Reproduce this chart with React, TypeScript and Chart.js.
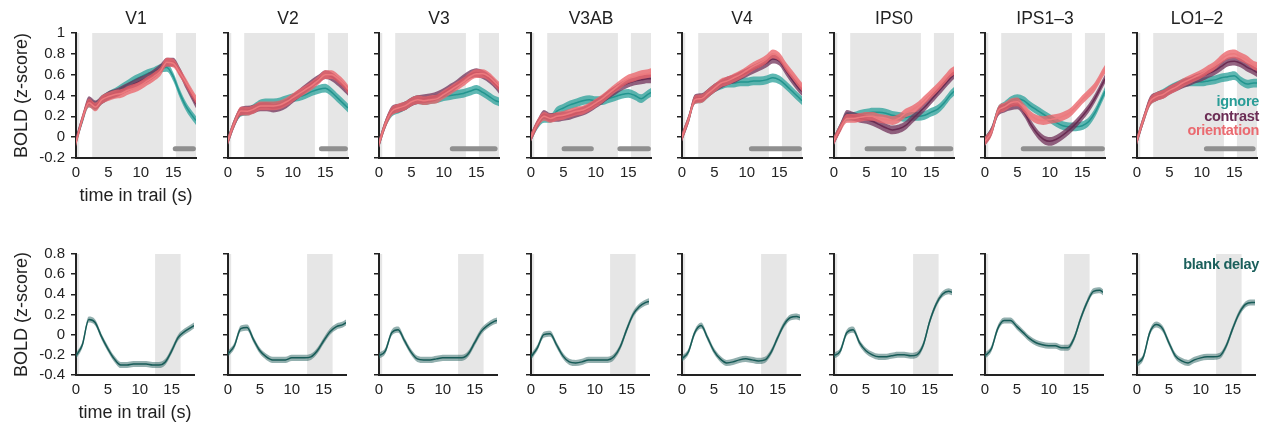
import React, { useEffect, useRef } from "react";
import { Chart, registerables } from "chart.js";

Chart.register(...registerables);

const FONT = '"Liberation Sans", Arial, Helvetica, sans-serif';
const INK = "#222222";

// ---------------- data ----------------
const REGIONS = ["V1", "V2", "V3", "V3AB", "V4", "IPS0", "IPS1–3", "LO1–2"];
const TIME_S = [0, 1, 2, 3, 4, 5, 6, 7, 8, 9, 10, 11, 12, 13, 14, 15, 16, 17, 18, 18.5];
const X_TICKS = [0, 5, 10, 15];
const TOP_Y_TICKS = [-0.2, 0, 0.2, 0.4, 0.6, 0.8, 1];
const BOTTOM_Y_TICKS = [-0.4, -0.2, 0, 0.2, 0.4, 0.6, 0.8];

// shaded task epochs (s)
const TASK_EPOCHS = [[0, 0.5], [2.5, 13.4], [15.4, 18.5]];
const BLANK_EPOCHS = [[0, 0.5], [12.4, 16.4]];

// half-width of the error bands (z)
const TASK_SEM = 0.042;
const BLANK_SEM = 0.03;

// significance bars (s), drawn at this level
const SIG_BAR_Y = -0.11;
const SIG_BARS = [
  [[15.3, 18.1]],
  [[14.4, 18.1]],
  [[11.3, 17.9]],
  [[5.1, 9.3], [13.7, 18.1]],
  [[10.7, 18.1]],
  [[5.1, 10.8], [12.9, 18.0]],
  [[5.9, 18.1]],
  [[10.7, 17.9]],
];

// per region, in REGIONS order
const IGNORE = [
  [-0.04, 0.17, 0.33, 0.3, 0.36, 0.4, 0.43, 0.47, 0.51, 0.55, 0.58, 0.61, 0.63, 0.66, 0.67, 0.58, 0.42, 0.29, 0.2, 0.16],
  [-0.03, 0.14, 0.24, 0.25, 0.28, 0.32, 0.33, 0.33, 0.34, 0.36, 0.38, 0.39, 0.41, 0.44, 0.46, 0.47, 0.43, 0.37, 0.31, 0.28],
  [-0.06, 0.13, 0.24, 0.27, 0.3, 0.34, 0.36, 0.35, 0.36, 0.37, 0.39, 0.4, 0.41, 0.42, 0.44, 0.46, 0.43, 0.39, 0.35, 0.34],
  [0.0, 0.12, 0.18, 0.18, 0.25, 0.28, 0.31, 0.33, 0.35, 0.36, 0.35, 0.35, 0.37, 0.39, 0.41, 0.42, 0.4, 0.37, 0.41, 0.43],
  [0.0, 0.17, 0.36, 0.37, 0.42, 0.47, 0.5, 0.52, 0.52, 0.53, 0.53, 0.54, 0.54, 0.55, 0.57, 0.55, 0.5, 0.44, 0.38, 0.35],
  [-0.03, 0.1, 0.2, 0.2, 0.22, 0.23, 0.24, 0.24, 0.23, 0.21, 0.2, 0.19, 0.2, 0.2, 0.21, 0.24, 0.27, 0.33, 0.41, 0.44],
  [-0.04, 0.06, 0.25, 0.3, 0.35, 0.37, 0.35, 0.3, 0.26, 0.22, 0.18, 0.14, 0.11, 0.1, 0.1, 0.11, 0.15, 0.24, 0.37, 0.44],
  [-0.03, 0.17, 0.34, 0.39, 0.42, 0.46, 0.49, 0.52, 0.53, 0.53, 0.53, 0.54, 0.55, 0.57, 0.58, 0.59, 0.54, 0.51, 0.52, 0.52],
];
const CONTRAST = [
  [-0.03, 0.18, 0.35, 0.31, 0.36, 0.4, 0.42, 0.45, 0.48, 0.51, 0.54, 0.57, 0.61, 0.66, 0.72, 0.72, 0.63, 0.5, 0.38, 0.32],
  [-0.03, 0.14, 0.25, 0.26, 0.27, 0.29, 0.29, 0.28, 0.29, 0.32, 0.37, 0.42, 0.47, 0.52, 0.56, 0.6, 0.58, 0.53, 0.47, 0.44],
  [-0.06, 0.13, 0.26, 0.28, 0.3, 0.34, 0.36, 0.37, 0.38, 0.4, 0.43, 0.47, 0.51, 0.56, 0.6, 0.62, 0.6, 0.56, 0.5, 0.46],
  [0.0, 0.13, 0.22, 0.19, 0.19, 0.2, 0.21, 0.23, 0.25, 0.28, 0.32, 0.36, 0.41, 0.45, 0.49, 0.52, 0.54, 0.55, 0.56, 0.56],
  [0.0, 0.17, 0.37, 0.38, 0.42, 0.47, 0.51, 0.54, 0.56, 0.59, 0.62, 0.65, 0.68, 0.71, 0.75, 0.73, 0.64, 0.55, 0.47, 0.44],
  [-0.03, 0.1, 0.22, 0.2, 0.18, 0.17, 0.15, 0.12, 0.09, 0.07, 0.08, 0.11, 0.17, 0.23, 0.29, 0.36, 0.43, 0.5, 0.57, 0.6],
  [-0.04, 0.06, 0.24, 0.28, 0.3, 0.31, 0.24, 0.13, 0.04, -0.02, -0.04, -0.02, 0.02, 0.07, 0.13, 0.2, 0.28, 0.38, 0.5, 0.56],
  [-0.03, 0.17, 0.35, 0.39, 0.41, 0.45, 0.48, 0.51, 0.53, 0.56, 0.58, 0.61, 0.64, 0.68, 0.72, 0.73, 0.71, 0.67, 0.64, 0.62],
];
const ORIENTATION = [
  [-0.05, 0.18, 0.33, 0.29, 0.36, 0.39, 0.41, 0.42, 0.45, 0.47, 0.5, 0.54, 0.58, 0.63, 0.72, 0.71, 0.62, 0.52, 0.41, 0.36],
  [-0.03, 0.14, 0.25, 0.25, 0.27, 0.3, 0.3, 0.3, 0.31, 0.34, 0.38, 0.42, 0.46, 0.5, 0.55, 0.6, 0.6, 0.56, 0.5, 0.46],
  [-0.06, 0.13, 0.25, 0.28, 0.3, 0.34, 0.36, 0.35, 0.36, 0.37, 0.41, 0.45, 0.49, 0.53, 0.58, 0.61, 0.61, 0.58, 0.52, 0.49],
  [0.0, 0.13, 0.2, 0.18, 0.2, 0.21, 0.23, 0.25, 0.26, 0.29, 0.33, 0.37, 0.42, 0.47, 0.52, 0.56, 0.58, 0.6, 0.61, 0.62],
  [0.0, 0.17, 0.36, 0.37, 0.42, 0.47, 0.52, 0.54, 0.57, 0.6, 0.64, 0.68, 0.71, 0.75, 0.8, 0.77, 0.68, 0.6, 0.52, 0.48],
  [-0.03, 0.09, 0.18, 0.18, 0.19, 0.2, 0.2, 0.18, 0.17, 0.16, 0.18, 0.23, 0.26, 0.3, 0.36, 0.42, 0.48, 0.55, 0.62, 0.64],
  [-0.04, 0.05, 0.25, 0.29, 0.33, 0.34, 0.28, 0.21, 0.17, 0.16, 0.17, 0.18, 0.2, 0.23, 0.29, 0.36, 0.42, 0.49, 0.6, 0.65],
  [-0.03, 0.17, 0.34, 0.39, 0.41, 0.45, 0.48, 0.52, 0.55, 0.58, 0.61, 0.65, 0.69, 0.75, 0.79, 0.8, 0.77, 0.74, 0.69, 0.68],
];
const BLANK_DELAY = [
  [-0.21, -0.1, 0.15, 0.12, -0.02, -0.14, -0.24, -0.3, -0.3, -0.29, -0.29, -0.29, -0.3, -0.3, -0.27, -0.16, -0.03, 0.03, 0.07, 0.09],
  [-0.19, -0.11, 0.06, 0.07, -0.05, -0.16, -0.22, -0.25, -0.25, -0.25, -0.23, -0.23, -0.23, -0.22, -0.16, -0.06, 0.03, 0.08, 0.1, 0.12],
  [-0.21, -0.16, 0.02, 0.05, -0.06, -0.17, -0.24, -0.25, -0.25, -0.24, -0.23, -0.23, -0.23, -0.23, -0.19, -0.08, 0.03, 0.09, 0.13, 0.14],
  [-0.22, -0.13, 0.0, 0.01, -0.1, -0.21, -0.27, -0.28, -0.27, -0.25, -0.25, -0.25, -0.25, -0.22, -0.12, 0.05, 0.2, 0.28, 0.32, 0.33],
  [-0.24, -0.17, 0.02, 0.09, -0.03, -0.16, -0.24, -0.28, -0.27, -0.25, -0.24, -0.25, -0.26, -0.25, -0.17, -0.03, 0.1, 0.17, 0.18, 0.17],
  [-0.21, -0.16, 0.02, 0.05, -0.08, -0.16, -0.2, -0.22, -0.22, -0.21, -0.2, -0.2, -0.21, -0.2, -0.1, 0.13, 0.3, 0.4, 0.43, 0.42],
  [-0.21, -0.14, 0.06, 0.14, 0.14, 0.08, 0.02, -0.04, -0.08, -0.1, -0.11, -0.11, -0.13, -0.13, -0.03, 0.16, 0.32, 0.43, 0.44, 0.42],
  [-0.29, -0.22, 0.02, 0.1, 0.06, -0.08, -0.21, -0.26, -0.28, -0.25, -0.23, -0.22, -0.22, -0.21, -0.11, 0.06, 0.21, 0.3, 0.32, 0.32],
];

// ---------------- styles ----------------
const COLORS = {
  ignore: { line: "#23958f", band: "rgba(42,160,153,0.75)", text: "#2a9d97" },
  contrast: { line: "#6a2b52", band: "rgba(112,48,88,0.75)", text: "#6b2d55" },
  orientation: { line: "#ec7a7e", band: "rgba(234,100,106,0.78)", text: "#ea6a70" },
  blank: { line: "#175b57", band: "rgba(40,98,96,0.5)", text: "#1a5f5b" },
};
const SHADE = "#e6e6e6";
const SIG_COLOR = "#8f8f8f";

const shadePlugin = {
  id: "epochShade",
  beforeDraw(chart: any, _args: any, opts: any) {
    const { ctx, chartArea, scales } = chart;
    const x = scales.x;
    ctx.save();
    ctx.fillStyle = opts.color;
    for (const [a, b] of opts.epochs as number[][]) {
      const x0 = Math.max(x.getPixelForValue(a), chartArea.left);
      const x1 = Math.min(x.getPixelForValue(b), chartArea.right);
      ctx.fillRect(x0, chartArea.top, x1 - x0, chartArea.bottom - chartArea.top);
    }
    ctx.restore();
  },
};

function pts(values: number[], off = 0) {
  return TIME_S.map((t, i) => ({ x: t, y: values[i] + off }));
}

function bandSet(values: number[], sem: number, c: any, order: number) {
  const common = { pointRadius: 0, borderWidth: 0, cubicInterpolationMode: "monotone" as const };
  return [
    { ...common, data: pts(values, -sem), fill: false, order },
    { ...common, data: pts(values, sem), fill: "-1", backgroundColor: c.band, order },
    {
      data: pts(values),
      pointRadius: 0,
      borderWidth: 1.5,
      borderColor: c.line,
      fill: false,
      cubicInterpolationMode: "monotone" as const,
      order: order - 1,
    },
  ];
}

type PanelProps = { row: "top" | "bottom"; col: number };

const AXIS_W = 76;
const XAXIS_H = 52;

function Panel({ row, col }: PanelProps) {
  const ref = useRef<HTMLCanvasElement>(null);
  const isTop = row === "top";
  const first = col === 0;
  const width = 206;
  const height = isTop ? 210 : 188;
  const left = Math.round(151.5 * col);
  const top = isTop ? 0 : 239;

  useEffect(() => {
    const datasets: any[] = [];
    if (isTop) {
      const sig: any[] = [];
      SIG_BARS[col].forEach(([a, b], k) => {
        if (k > 0) sig.push({ x: (SIG_BARS[col][k - 1][1] + a) / 2, y: null });
        sig.push({ x: a, y: SIG_BAR_Y }, { x: b, y: SIG_BAR_Y });
      });
      datasets.push({
        data: sig,
        borderColor: SIG_COLOR,
        borderWidth: 5,
        borderCapStyle: "round",
        pointRadius: 0,
        spanGaps: false,
        tension: 0,
        fill: false,
        order: 100,
      });
      datasets.push(...bandSet(IGNORE[col], TASK_SEM, COLORS.ignore, 90));
      datasets.push(...bandSet(CONTRAST[col], TASK_SEM, COLORS.contrast, 80));
      datasets.push(...bandSet(ORIENTATION[col], TASK_SEM, COLORS.orientation, 70));
    } else {
      datasets.push(...bandSet(BLANK_DELAY[col], BLANK_SEM, COLORS.blank, 90));
    }

    const yTicks = isTop ? TOP_Y_TICKS : BOTTOM_Y_TICKS;
    const chart = new Chart(ref.current as HTMLCanvasElement, {
      type: "line",
      data: { datasets },
      options: {
        animation: false,
        responsive: false,
        devicePixelRatio: 1,
        events: [],
        layout: { padding: { left: 0, right: isTop ? 10 : 12, top: isTop ? 0 : 10, bottom: 0 } },
        plugins: {
          legend: { display: false },
          tooltip: { enabled: false },
          title: {
            display: isTop,
            text: REGIONS[col],
            fullSize: false,
            color: INK,
            font: { family: FONT, size: 17.5, weight: "normal", lineHeight: 1.2 },
            padding: { top: 8.5, bottom: 3.5 },
          },
          epochShade: { epochs: isTop ? TASK_EPOCHS : BLANK_EPOCHS, color: SHADE },
        } as any,
        scales: {
          x: {
            type: "linear",
            min: 0,
            max: 18.5,
            afterBuildTicks: (s: any) => {
              s.ticks = X_TICKS.map((v) => ({ value: v }));
            },
            afterFit: (s: any) => {
              s.height = XAXIS_H;
            },
            grid: { display: false, drawTicks: false },
            border: { display: true, color: INK, width: 2 },
            ticks: {
              color: INK,
              font: { family: FONT, size: 15 },
              padding: 6,
              maxRotation: 0,
              autoSkip: false,
              callback: (v: any) => String(v),
            },
            title: {
              display: first,
              text: "time in trail (s)",
              color: INK,
              font: { family: FONT, size: 18 },
              padding: { top: 0, bottom: 3 },
            },
          },
          y: {
            type: "linear",
            min: yTicks[0],
            max: yTicks[yTicks.length - 1],
            afterBuildTicks: (s: any) => {
              s.ticks = yTicks.map((v) => ({ value: v }));
            },
            afterFit: (s: any) => {
              s.width = AXIS_W;
            },
            grid: {
              display: true,
              drawOnChartArea: false,
              drawTicks: true,
              tickLength: 5,
              color: INK,
              lineWidth: 1.5,
            },
            border: { display: true, color: INK, width: 2 },
            ticks: {
              color: INK,
              font: { family: FONT, size: 15 },
              padding: 6,
              autoSkip: false,
              callback: (v: any) => (first ? String(v) : ""),
            },
            title: {
              display: first,
              text: "BOLD (z-score)",
              color: INK,
              font: { family: FONT, size: 18 },
              padding: { top: 11, bottom: 0 },
            },
          },
        },
      } as any,
      plugins: [shadePlugin],
    });
    return () => chart.destroy();
  }, []);

  return (
    <canvas
      ref={ref}
      width={width}
      height={height}
      style={{ position: "absolute", left, top, width, height }}
    />
  );
}

const legendStyle = (color: string, cy: number): React.CSSProperties => ({
  position: "absolute",
  right: 6,
  top: cy - 9,
  height: 18,
  lineHeight: "18px",
  font: `bold 14.5px ${FONT}`,
  letterSpacing: "-0.3px",
  color,
  whiteSpace: "nowrap",
});

export default function App() {
  return (
    <div
      style={{
        position: "absolute",
        left: 0,
        top: 0,
        width: 1265,
        height: 427,
        overflow: "hidden",
        background: "#ffffff",
      }}
    >
      {REGIONS.map((_, i) => (
        <Panel key={"t" + i} row="top" col={i} />
      ))}
      {REGIONS.map((_, i) => (
        <Panel key={"b" + i} row="bottom" col={i} />
      ))}
      <div style={legendStyle(COLORS.ignore.text, 102)}>ignore</div>
      <div style={legendStyle(COLORS.contrast.text, 117)}>contrast</div>
      <div style={legendStyle(COLORS.orientation.text, 131)}>orientation</div>
      <div style={legendStyle(COLORS.blank.text, 265)}>blank delay</div>
    </div>
  );
}
